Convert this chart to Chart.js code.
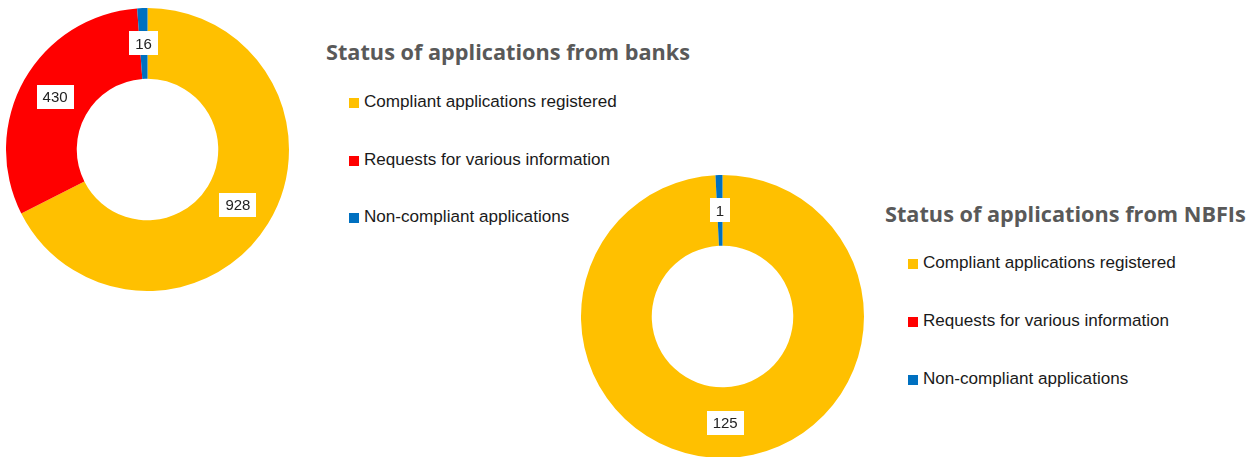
<!DOCTYPE html>
<html>
<head>
<meta charset="utf-8">
<script src="https://cdn.jsdelivr.net/npm/chart.js@4"></script>
<style>
  html, body { margin: 0; padding: 0; background: #fff; overflow: hidden; }
  #page { position: relative; width: 1259px; height: 457px; overflow: hidden; }
  .ring { position: absolute; width: 283px; height: 283px; }
  .title { position: absolute; font-family: "Open Sans", sans-serif; font-weight: 700;
           font-size: 21.7px; color: #595959; white-space: nowrap; line-height: 1; }
  .legend { position: absolute; font-family: "Liberation Sans", Arial, sans-serif; font-size: 17.1px;
            color: #1a1a1a; }
  .legend div { position: absolute; white-space: nowrap; line-height: 20px; }
  .legend span { display: inline-block; width: 10px; height: 10px; margin-right: 5px; vertical-align: -1px; }
</style>
</head>
<body>
<div id="page">
  <div class="ring" style="left:6px; top:8px;"><canvas id="banks"></canvas></div>
  <div class="ring" style="left:581px; top:175px;"><canvas id="nbfi"></canvas></div>
  <div class="title" id="t1" style="left:326px; top:41px;"></div>
  <div class="legend" id="l1" style="left:349px; top:92px;"></div>
  <div class="title" id="t2" style="left:885px; top:203px;"></div>
  <div class="legend" id="l2" style="left:908px; top:253px;"></div>
</div>
<script>
// categories and values
const categories = ['Compliant applications registered', 'Requests for various information', 'Non-compliant applications'];
const colors = ['#FFC000', '#FF0000', '#0070C0'];
const banksValues = [928, 430, 16];
const nbfiValues = [125, 0, 1];
const banksTitle = 'Status of applications from banks';
const nbfiTitle = 'Status of applications from NBFIs';

// white boxed value labels on each slice
const sliceLabels = {
  id: 'sliceLabels',
  afterDatasetsDraw(chart) {
    const ctx = chart.ctx;
    const ds = chart.data.datasets[0];
    chart.getDatasetMeta(0).data.forEach((arc, i) => {
      const v = ds.data[i];
      if (!v) return;
      const p = arc.tooltipPosition();
      const txt = String(v);
      ctx.save();
      ctx.font = '15px "Liberation Sans", Arial, sans-serif';
      const w = ctx.measureText(txt).width + 12;
      const h = 24;
      ctx.fillStyle = '#fff';
      ctx.fillRect(Math.round(p.x - w / 2), Math.round(p.y - h / 2), Math.round(w), h);
      ctx.fillStyle = '#222';
      ctx.textAlign = 'center';
      ctx.textBaseline = 'middle';
      ctx.fillText(txt, p.x, p.y + 1);
      ctx.restore();
    });
  }
};

function ring(id, values) {
  return new Chart(document.getElementById(id), {
    type: 'doughnut',
    data: {
      labels: categories,
      datasets: [{ data: values, backgroundColor: colors, borderWidth: 0 }]
    },
    options: {
      responsive: true,
      maintainAspectRatio: false,
      animation: false,
      cutout: '50%',
      layout: { padding: 0 },
      plugins: { legend: { display: false }, tooltip: { enabled: false } }
    },
    plugins: [sliceLabels]
  });
}

function legend(id, titleId, title, rowGap) {
  document.getElementById(titleId).textContent = title;
  const el = document.getElementById(id);
  categories.forEach((c, i) => {
    const row = document.createElement('div');
    row.style.top = (i * rowGap) + 'px';
    row.innerHTML = '<span style="background:' + colors[i] + '"></span>' + c;
    el.appendChild(row);
  });
}

ring('banks', banksValues);
ring('nbfi', nbfiValues);
legend('l1', 't1', banksTitle, 57.5);
legend('l2', 't2', nbfiTitle, 58);
</script>
</body>
</html>
